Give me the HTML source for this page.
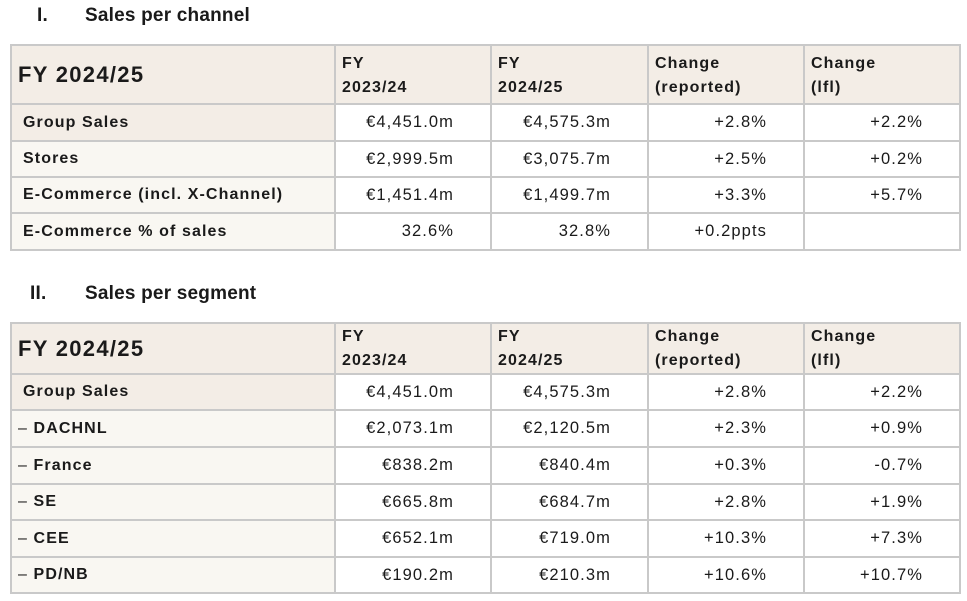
<!DOCTYPE html>
<html><head><meta charset="utf-8"><style>
body{margin:0;background:#fff;width:967px;height:601px;position:relative;font-family:"Liberation Sans",sans-serif;color:#1a1a1a;overflow:hidden}
.h{position:absolute;font-weight:bold;font-size:19px;letter-spacing:0.2px}
table{position:absolute;left:10px;border-collapse:collapse;table-layout:fixed;width:949px}
td{border:2px solid #c9c9c9;padding:0;font-size:16px;letter-spacing:1.1px;box-sizing:border-box}
td.l{background:#f9f7f2;font-weight:bold;padding-left:11px}
td.l.g{background:#f3ede6}
td.n{text-align:right;padding-right:36px;background:#fff;font-size:16.5px}
tr.hd td{background:#f3ede6;font-weight:bold;vertical-align:top;padding:6px 0 0 6px;line-height:24px}
tr.hd td.t{font-size:22px;vertical-align:middle;padding:0 0 0 6px;letter-spacing:1.3px}
</style></head><body>
<div class="h" style="left:37px;top:5px">I.</div>
<div class="h" style="left:85px;top:5px">Sales per channel</div>
<table style="top:44px">
<colgroup><col style="width:324px"><col style="width:156px"><col style="width:157px"><col style="width:156px"><col style="width:156px"></colgroup>
<tr class="hd" style="height:59px"><td class="t">FY 2024/25</td><td>FY<br>2023/24</td><td>FY<br>2024/25</td><td>Change<br>(reported)</td><td>Change<br>(lfl)</td></tr>
<tr style="height:37px"><td class="l g">Group Sales</td><td class="n">€4,451.0m</td><td class="n">€4,575.3m</td><td class="n">+2.8%</td><td class="n">+2.2%</td></tr>
<tr style="height:36px"><td class="l">Stores</td><td class="n">€2,999.5m</td><td class="n">€3,075.7m</td><td class="n">+2.5%</td><td class="n">+0.2%</td></tr>
<tr style="height:36px"><td class="l">E-Commerce (incl. X-Channel)</td><td class="n">€1,451.4m</td><td class="n">€1,499.7m</td><td class="n">+3.3%</td><td class="n">+5.7%</td></tr>
<tr style="height:37px"><td class="l">E-Commerce % of sales</td><td class="n">32.6%</td><td class="n">32.8%</td><td class="n">+0.2ppts</td><td class="n"></td></tr>
</table>
<div class="h" style="left:30px;top:283px">II.</div>
<div class="h" style="left:85px;top:283px">Sales per segment</div>
<table style="top:322px">
<colgroup><col style="width:324px"><col style="width:156px"><col style="width:157px"><col style="width:156px"><col style="width:156px"></colgroup>
<tr class="hd" style="height:48px"><td class="t">FY 2024/25</td><td style="padding-top:1px">FY<br>2023/24</td><td style="padding-top:1px">FY<br>2024/25</td><td style="padding-top:1px">Change<br>(reported)</td><td style="padding-top:1px">Change<br>(lfl)</td></tr>
<tr style="height:36px"><td class="l g">Group Sales</td><td class="n">€4,451.0m</td><td class="n">€4,575.3m</td><td class="n">+2.8%</td><td class="n">+2.2%</td></tr>
<tr style="height:37px"><td class="l" style="padding-left:6px"><span style="font-weight:normal">–</span> DACHNL</td><td class="n">€2,073.1m</td><td class="n">€2,120.5m</td><td class="n">+2.3%</td><td class="n">+0.9%</td></tr>
<tr style="height:37px"><td class="l" style="padding-left:6px"><span style="font-weight:normal">–</span> France</td><td class="n">€838.2m</td><td class="n">€840.4m</td><td class="n">+0.3%</td><td class="n">-0.7%</td></tr>
<tr style="height:36px"><td class="l" style="padding-left:6px"><span style="font-weight:normal">–</span> SE</td><td class="n">€665.8m</td><td class="n">€684.7m</td><td class="n">+2.8%</td><td class="n">+1.9%</td></tr>
<tr style="height:37px"><td class="l" style="padding-left:6px"><span style="font-weight:normal">–</span> CEE</td><td class="n">€652.1m</td><td class="n">€719.0m</td><td class="n">+10.3%</td><td class="n">+7.3%</td></tr>
<tr style="height:36px"><td class="l" style="padding-left:6px"><span style="font-weight:normal">–</span> PD/NB</td><td class="n">€190.2m</td><td class="n">€210.3m</td><td class="n">+10.6%</td><td class="n">+10.7%</td></tr>
</table>
</body></html>
